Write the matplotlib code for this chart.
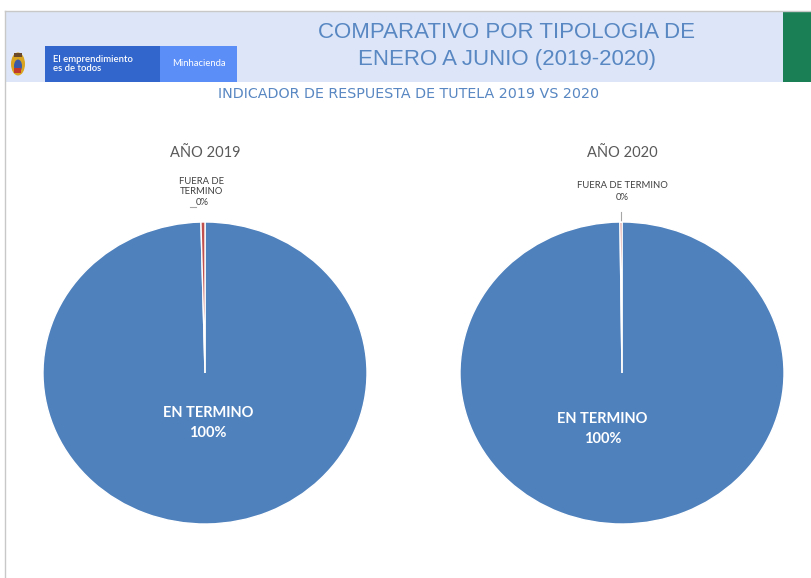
import matplotlib.pyplot as plt
import matplotlib.patches as patches

# Datos del indicador de respuesta de tutela
categorias = ['EN TERMINO', 'FUERA DE TERMINO']
valores_2019 = [99.6, 0.4]
valores_2020 = [99.8, 0.2]
anios = ['AÑO 2019', 'AÑO 2020']

titulo_1 = 'COMPARATIVO POR TIPOLOGIA DE'
titulo_2 = 'ENERO A JUNIO (2019-2020)'
subtitulo = 'INDICADOR DE RESPUESTA DE TUTELA 2019 VS 2020'

azul_pie = '#4f81bd'
rojo_pie = '#c0504d'
azul_titulo = '#5887c2'
gris_texto = '#595959'

W, H = 812, 578
fig = plt.figure(figsize=(W / 100, H / 100), dpi=100)

# Fondo en coordenadas de pixel
bg = fig.add_axes([0, 0, 1, 1])
bg.set_xlim(0, W)
bg.set_ylim(H, 0)
bg.axis('off')

# Encabezado
bg.add_patch(patches.Rectangle((5, 12), 778, 70, color='#dce6f8', lw=0))
bg.add_patch(patches.Rectangle((783, 12), 29, 70, color='#1a7f55', lw=0))
bg.plot([5, W], [11, 11], color='#c8c8c8', lw=1)
bg.plot([5, 5], [11, H], color='#c8c8c8', lw=1)

# Logo
bg.add_patch(patches.Rectangle((45, 46), 115, 36, color='#3366cc', lw=0))
bg.add_patch(patches.Rectangle((160, 46), 77, 36, color='#5b8ef7', lw=0))
bg.text(53, 64, 'El emprendimiento\nes de todos', color='white', fontsize=6.8,
        family='Lato', fontweight='semibold', va='center', ha='left', linespacing=1.0)
bg.text(199, 64, 'Minhacienda', color='white', fontsize=6.8,
        family='Lato', va='center', ha='center')
bg.add_patch(patches.Ellipse((18, 64), 14, 23, color='#d9a520', lw=0))
bg.add_patch(patches.Ellipse((18, 66), 8, 13, color='#3a5aa8', lw=0))
bg.add_patch(patches.Rectangle((14.5, 68), 7, 5, color='#c0392b', lw=0))
bg.add_patch(patches.Rectangle((14, 53), 8, 4, color='#6b4a2b', lw=0))

# Titulos
bg.text(507, 33, titulo_1, color=azul_titulo, fontsize=16, family='Liberation Sans',
        ha='center', va='center')
bg.text(507, 59, titulo_2, color=azul_titulo, fontsize=16, family='Liberation Sans',
        ha='center', va='center')
bg.text(409, 94, subtitulo, color=azul_titulo, fontsize=10.3, family='Liberation Sans Narrow',
        ha='center', va='center')


def dibujar_pie(valores, cx, cy, rx, ry, anio):
    ax = fig.add_axes([(cx - rx) / W, 1 - (cy + ry) / H, 2 * rx / W, 2 * ry / H])
    ax.pie(valores, colors=[azul_pie, rojo_pie], startangle=90, counterclock=False,
           wedgeprops=dict(edgecolor='white', linewidth=1))
    ax.set_xlim(-1, 1)
    ax.set_ylim(-1, 1)
    ax.set_aspect('auto')
    ax.text(0, 1.46, anio, color=gris_texto, fontsize=10.5, family='Lato',
            ha='center', va='center')
    return ax


ax1 = dibujar_pie(valores_2019, 205, 373, 162, 151, anios[0])
ax1.text(0.02, -0.33, f'{categorias[0]}\n{round(valores_2019[0])}%', color='white',
         fontsize=10.5, family='Lato', fontweight='bold', ha='center', va='center',
         linespacing=1.6)
ax1.text(-0.02, 1.2, f'FUERA DE\nTERMINO\n{round(valores_2019[1])}%', color='#404040',
         fontsize=6.8, family='Lato', ha='center', va='center', linespacing=1.25)
bg.plot([190, 196], [207, 207], color='#a6a6a6', lw=0.8)

ax2 = dibujar_pie(valores_2020, 622, 373, 162, 151, anios[1])
ax2.text(-0.12, -0.37, f'{categorias[0]}\n{round(valores_2020[0])}%', color='white',
         fontsize=10.5, family='Lato', fontweight='bold', ha='center', va='center',
         linespacing=1.6)
ax2.text(0, 1.2, f'FUERA DE TERMINO\n{round(valores_2020[1])}%', color='#404040',
         fontsize=6.8, family='Lato', ha='center', va='center', linespacing=1.4)
bg.plot([621, 621], [212, 221], color='#a6a6a6', lw=0.8)

fig.savefig('out.png', dpi=100)
